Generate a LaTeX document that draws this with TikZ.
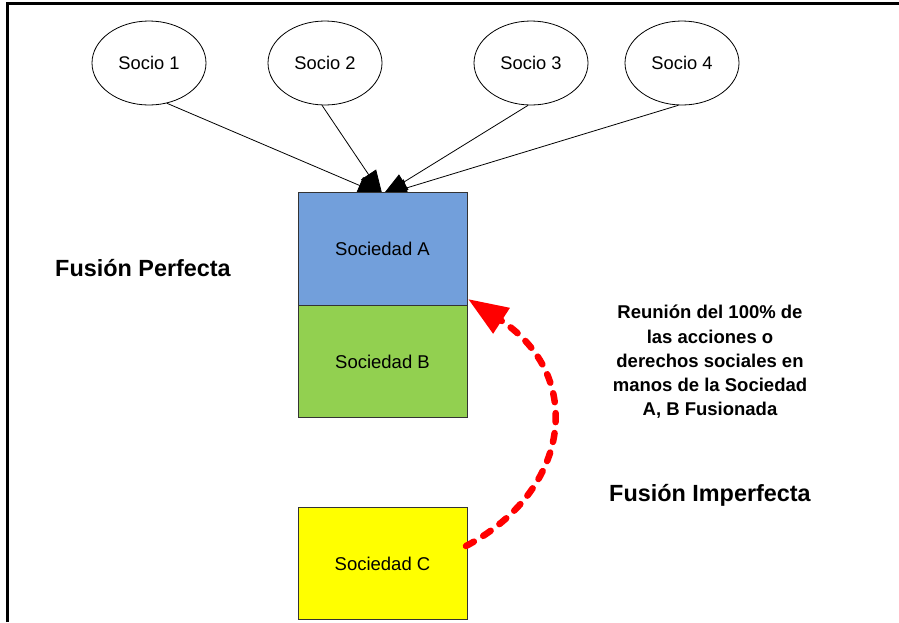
\documentclass[tikz,border=0pt]{standalone}
\usepackage{fontspec}
\setmainfont{Liberation Sans}
\usetikzlibrary{arrows.meta,shapes.geometric}
\pgfdeclarelayer{back}
\pgfdeclarelayer{bg}
\pgfsetlayers{back,bg,main}
\definecolor{soca}{RGB}{114,159,219}
\definecolor{socb}{RGB}{146,208,80}
\definecolor{socc}{RGB}{255,255,0}
\definecolor{redarr}{RGB}{255,0,0}
\tikzset{
  socio/.style={ellipse,draw=black,line width=0.8pt,fill=white,minimum width=114pt,minimum height=84pt,inner sep=0pt,font=\fontsize{18.3}{20}\selectfont},
  socbox/.style={rectangle,draw=black!80,line width=1pt,minimum width=169pt,minimum height=112.5pt,inner sep=0pt,font=\fontsize{18.5}{20}\selectfont},
  link/.style={line width=0.8pt,-{Triangle[length=25pt,width=18pt]}},
  title/.style={font=\bfseries\fontsize{23.4}{26}\selectfont},
}
\begin{document}
\begin{tikzpicture}[x=1pt,y=-1pt]
\useasboundingbox (0,0) rectangle (899,622);
\begin{pgfonlayer}{back}
\fill[white] (0,0) rectangle (899,622);
\end{pgfonlayer}
% frame
\draw[line width=3pt] (7,622) -- (7,3) -- (899,3);
% socios
\node[socio] (s1) at (149,63) {Socio 1};
\node[socio] (s2) at (325,63) {Socio 2};
\node[socio] (s3) at (531,63) {Socio 3};
\node[socio] (s4) at (682,63) {Socio 4};
% boxes
\node[socbox,fill=soca] (A) at (382.5,249) {Sociedad A};
\node[socbox,fill=socb] (B) at (382.5,361.5) {Sociedad B};
\node[socbox,fill=socc] (C) at (382.5,563.5) {Sociedad C};
% connectors (behind the boxes)
\begin{pgfonlayer}{bg}
\coordinate (tA) at ([yshift=-3pt]A.north);
\draw[link] (s1.-66) -- (tA);
\draw[link] (s2.-94) -- (tA);
\draw[link] (s3.-94) -- (tA);
\draw[link] (s4.-95) -- (tA);
\end{pgfonlayer}
% texts
\node[title] (fp) at (143,268) {Fusión Perfecta};
\node[title] (fi) at (710,495) {Fusión Imperfecta};
\node[align=center,font=\bfseries\fontsize{18.5}{24.2}\selectfont] (txt) at (710,362) {Reunión del 100\% de\\las acciones o\\derechos sociales en\\manos de la Sociedad\\A, B Fusionada};
% dashed arrow
\coordinate (cstart) at (466,546);
\coordinate (cend) at (468,299);
\draw[redarr,line width=6.5pt,line cap=round,dash pattern=on 9pt off 11pt,-{Triangle[length=40pt,width=29pt]}] (cstart) .. controls (572,490) and (585,375) .. (cend);
\end{tikzpicture}
\end{document}
